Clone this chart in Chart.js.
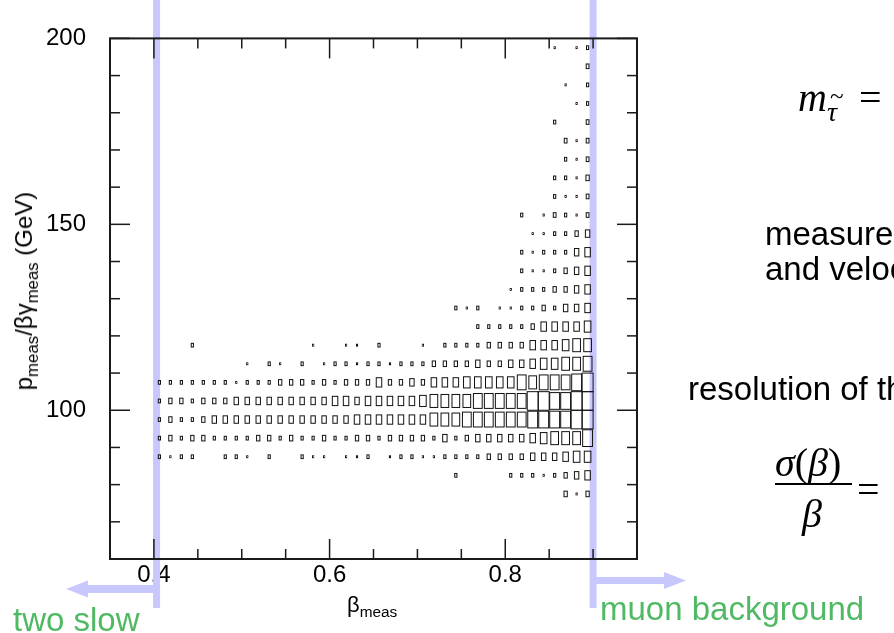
<!DOCTYPE html>
<html>
<head>
<meta charset="utf-8">
<script src="https://cdn.jsdelivr.net/npm/chart.js@4.4.1/dist/chart.umd.min.js"></script>
<style>
    html, body { margin: 0; padding: 0; background: #fff; overflow: hidden; }
    #wrap { position: relative; width: 894px; height: 633px; overflow: hidden;
            font-family: "Liberation Sans", Arial, Helvetica, sans-serif; color: #000; }
    #wrap canvas { position: absolute; left: 0; top: 0; }
    .txt { position: absolute; white-space: nowrap; line-height: 1; }
    .slide { font-size: 33px; }
    .green { color: rgb(80, 185, 100); }
    .math { font-family: "Liberation Serif", "Times New Roman", serif; font-style: italic; }
    .upright { font-style: normal; }
    sub { font-size: 0.7em; vertical-align: -0.35em; line-height: 0; }
    .tilde { position: relative; display: inline-block; }
    .tilde .acc { position: absolute; left: 0.12em; top: -0.62em; font-style: normal; font-size: 0.9em; }
    #ytitle { font-size: 24px; transform: translate(-50%, -50%) rotate(-90deg); left: 24px; top: 291px; }
    #xtitle { font-size: 22px; left: 347px; top: 594px; }
    .frac { position: absolute; }
    .frac .bar { position: absolute; height: 2px; background: #000; }
</style>
</head>
<body>
<div id="wrap">
    <canvas id="betaChart" width="894" height="633"></canvas>

    <div class="txt" id="ytitle">p<sub>meas</sub>/βγ<sub>meas</sub> (GeV)</div>
    <div class="txt" id="xtitle">β<sub>meas</sub></div>

    <div class="txt slide green" style="left:13px; top:603px;">two slow</div>
    <div class="txt slide green" style="left:600px; top:592px;">muon background</div>

    <div class="txt math" style="left:798px; top:78px; font-size:40px;">m<sub><span class="tilde">τ<span class="acc">~</span></span></sub><span class="upright" style="margin-left:22px;">=</span></div>

    <div class="txt slide" style="left:765px; top:217px;">measured momentum</div>
    <div class="txt slide" style="left:765px; top:252px;">and velocity</div>

    <div class="txt slide" style="left:688px; top:372px;">resolution of the velocity</div>

    <div class="frac" style="left:775px; top:438px; width:80px; height:95px;">
        <div class="txt math" style="left:0; top:5px; font-size:40px;">σ<span class="upright">(</span>β<span class="upright">)</span></div>
        <div class="bar" style="left:0; top:45px; width:77px;"></div>
        <div class="txt math" style="left:27px; top:56px; font-size:40px;">β</div>
    </div>
    <div class="txt math" style="left:857px; top:470px; font-size:40px;"><span class="upright">=</span></div>
</div>

<script>
// velocity bins: 40 bins of 0.0125 between 0.4 and 0.9
const betaLow = 0.4;
const betaStep = 0.0125;
// momentum/(beta gamma) bins: 5 GeV wide, listed by bin centre
const pStep = 5;
const pCentres = [197.5, 192.5, 187.5, 182.5, 177.5, 172.5, 167.5, 162.5, 157.5, 152.5,
                  147.5, 142.5, 137.5, 132.5, 127.5, 122.5, 117.5, 112.5, 107.5, 102.5,
                  97.5, 92.5, 87.5, 82.5, 77.5];

// bin contents, one row per pCentres entry, columns run from beta 0.4 to 0.9
const binContent = [
    [0,0,0,0,0,0,0,0,0,0, 0,0,0,0,0,0,0,0,0,0, 0,0,0,0,0,0,0,0,0,0, 0,0,0,0,0,0,1,0,1,2],
    [0,0,0,0,0,0,0,0,0,0, 0,0,0,0,0,0,0,0,0,0, 0,0,0,0,0,0,0,0,0,0, 0,0,0,0,0,0,0,0,0,2.5],
    [0,0,0,0,0,0,0,0,0,0, 0,0,0,0,0,0,0,0,0,0, 0,0,0,0,0,0,0,0,0,0, 0,0,0,0,0,0,0,1,0,2],
    [0,0,0,0,0,0,0,0,0,0, 0,0,0,0,0,0,0,0,0,0, 0,0,0,0,0,0,0,0,0,0, 0,0,0,0,0,0,0,0,1,2],
    [0,0,0,0,0,0,0,0,0,0, 0,0,0,0,0,0,0,0,0,0, 0,0,0,0,0,0,0,0,0,0, 0,0,0,0,0,0,2,0,0,2.5],
    [0,0,0,0,0,0,0,0,0,0, 0,0,0,0,0,0,0,0,0,0, 0,0,0,0,0,0,0,0,0,0, 0,0,0,0,0,0,0,2.5,1,2.5],
    [0,0,0,0,0,0,0,0,0,0, 0,0,0,0,0,0,0,0,0,0, 0,0,0,0,0,0,0,0,0,0, 0,0,0,0,0,0,0,2,1,2.5],
    [0,0,0,0,0,0,0,0,0,0, 0,0,0,0,0,0,0,0,0,0, 0,0,0,0,0,0,0,0,0,0, 0,0,0,0,0,0,2,2,1,3],
    [0,0,0,0,0,0,0,0,0,0, 0,0,0,0,0,0,0,0,0,0, 0,0,0,0,0,0,0,0,0,0, 0,0,0,0,0,0,2,1,1,2.5],
    [0,0,0,0,0,0,0,0,0,0, 0,0,0,0,0,0,0,0,0,0, 0,0,0,0,0,0,0,0,0,0, 0,0,0,2,0,1,2.5,2,1,2.5],
    [0,0,0,0,0,0,0,0,0,0, 0,0,0,0,0,0,0,0,0,0, 0,0,0,0,0,0,0,0,0,0, 0,0,0,0,1,1,2,2,3,4],
    [0,0,0,0,0,0,0,0,0,0, 0,0,0,0,0,0,0,0,0,0, 0,0,0,0,0,0,0,0,0,0, 0,0,0,2,1,2,2,2,4,5],
    [0,0,0,0,0,0,0,0,0,0, 0,0,0,0,0,0,0,0,0,0, 0,0,0,0,0,0,0,0,0,0, 0,0,0,2,1,1,2,3,4,5],
    [0,0,0,0,0,0,0,0,0,0, 0,0,0,0,0,0,0,0,0,0, 0,0,0,0,0,0,0,0,0,0, 0,0,1,2,2,2,3,3,4,5],
    [0,0,0,0,0,0,0,0,0,0, 0,0,0,0,0,0,0,0,0,0, 0,0,0,0,0,0,0,2,1,2, 0,1,1,2,2,3,2,4,4,5],
    [0,0,0,0,0,0,0,0,0,0, 0,0,0,0,0,0,0,0,0,0, 0,0,0,0,0,0,0,0,0,2, 2,2,2,2,3,5,5,5,5,6],
    [0,0,0,2,0,0,0,0,0,0, 0,0,0,0,1,0,0,1,1,0, 2,0,0,0,1,0,2,2,2,2, 3,3,3,3,5,5,5,6,7,7],
    [0,0,0,0,0,0,0,0,1,0, 2,1,0,2,0,1,2,2,1,2, 2,1,2,2,2,3,3,3,3,4, 3,3,4,4,5,6,6,7,7,8],
    [2,2,2,2,2,2,2,1,2,2, 2,3,3,3,2,3,2,3,3,3, 5,3,3,4,3,5,5,5,6,6, 6,6,6,8,7,8,8,8,9,10],
    [2,3,3,2,3,3,3,4,4,4, 4,4,4,4,4,4,5,5,4,5, 5,5,5,5,6,7,7,7,7,8, 8,8,8,8,10,10,9,9,10,10],
    [2,3,2,2,3,4,4,4,4,4, 4,4,4,4,4,4,4,4,5,5, 5,5,5,5,5,7,7,7,8,8, 8,8,8,8,9,9,9,9,10,10],
    [2,3,2,3,3,2,2,2,2,3, 3,2,3,2,2,3,2,2,3,3, 2,3,3,3,3,2,4,2,3,4, 4,4,4,4,5,6,7,7,7,9],
    [2,1,2,2,0,0,2,2,1,0, 2,0,0,2,1,1,0,1,1,2, 0,1,2,2,1,1,2,2,2,2, 3,3,3,3,4,4,4,5,6,6],
    [0,0,0,0,0,0,0,0,0,0, 0,0,0,0,0,0,0,0,0,0, 0,0,0,0,0,0,0,2,0,0, 0,0,2,2,2,1,2,3,4,5],
    [0,0,0,0,0,0,0,0,0,0, 0,0,0,0,0,0,0,0,0,0, 0,0,0,0,0,0,0,0,0,0, 0,0,0,0,0,0,0,3,1,3]
];

const xTickValues = [0.4, 0.6, 0.8];
const yTickValues = [100, 150, 200];
// selection cuts on beta
const cutValues = [0.403, 0.9];

// flatten the 2D histogram into points at the bin centres
const cells = [];
binContent.forEach((row, r) => {
    row.forEach((v, c) => {
        if (v > 0) {
            cells.push({ x: betaLow + betaStep * (c + 0.5), y: pCentres[r], v: v });
        }
    });
});
const maxContent = Math.max(...cells.map(c => c.v));

const blue = 'rgb(200, 200, 255)';

// ROOT-style "box" drawing: box size proportional to bin content
const boxPlugin = {
    id: 'boxes',
    afterDatasetsDraw(chart) {
        const { ctx, scales: { x, y } } = chart;
        const meta = chart.getDatasetMeta(0);
        const data = chart.data.datasets[0].data;
        const binW = Math.abs(x.getPixelForValue(betaLow + betaStep) - x.getPixelForValue(betaLow));
        const binH = Math.abs(y.getPixelForValue(100) - y.getPixelForValue(100 + pStep));
        ctx.save();
        ctx.strokeStyle = '#111';
        ctx.lineWidth = 1;
        meta.data.forEach((pt, i) => {
            const f = data[i].v / maxContent;
            const w = Math.max(binW * f, 1);
            const h = Math.max(binH * f, 1);
            ctx.strokeRect(pt.x - w / 2, pt.y - h / 2, w, h);
        });
        ctx.restore();
    }
};

// the two beta cut lines with their arrows
const cutPlugin = {
    id: 'cuts',
    beforeDatasetsDraw(chart) {
        const { ctx, scales: { x } } = chart;
        const xl = x.getPixelForValue(cutValues[0]);
        const xr = x.getPixelForValue(cutValues[1]);
        ctx.save();
        ctx.fillStyle = blue;
        ctx.fillRect(xl - 3.5, 0, 7, 608);
        ctx.fillRect(xr - 3.5, 0, 7, 608);
        // left arrow
        ctx.fillRect(86, 585, xl - 86, 8);
        ctx.beginPath();
        ctx.moveTo(66, 589);
        ctx.lineTo(88, 580.5);
        ctx.lineTo(88, 597.5);
        ctx.closePath();
        ctx.fill();
        // right arrow
        ctx.fillRect(xr, 577, 666 - xr, 7);
        ctx.beginPath();
        ctx.moveTo(686, 580.5);
        ctx.lineTo(664, 572);
        ctx.lineTo(664, 589);
        ctx.closePath();
        ctx.fill();
        ctx.restore();
    }
};

// frame with inward ticks on all four sides
const framePlugin = {
    id: 'frame',
    afterDatasetsDraw(chart) {
        const { ctx, chartArea: a, scales: { x, y } } = chart;
        ctx.save();
        ctx.strokeStyle = '#1a1a1a';
        ctx.lineWidth = 1.5;
        const tick = (x0, y0, x1, y1) => {
            ctx.beginPath(); ctx.moveTo(x0, y0); ctx.lineTo(x1, y1); ctx.stroke();
        };
        for (let b = 0.35; b <= 0.951; b += 0.05) {
            const v = Math.round(b * 100) / 100;
            const px = x.getPixelForValue(v);
            const len = xTickValues.includes(v) ? 20 : 10;
            tick(px, a.bottom, px, a.bottom - len);
            tick(px, a.top, px, a.top + len);
        }
        for (let p = 60; p <= 200; p += 10) {
            const py = y.getPixelForValue(p);
            const len = yTickValues.includes(p) ? 20 : 10;
            tick(a.left, py, a.left + len, py);
            tick(a.right, py, a.right - len, py);
        }
        ctx.lineWidth = 2;
        ctx.strokeRect(a.left, a.top, a.right - a.left, a.bottom - a.top);
        ctx.restore();
    }
};

new Chart(document.getElementById('betaChart'), {
    type: 'scatter',
    data: {
        datasets: [{
            label: 'events',
            data: cells,
            pointRadius: 0,
            pointHoverRadius: 0,
            pointHitRadius: 0
        }]
    },
    options: {
        responsive: false,
        animation: false,
        events: [],
        layout: { padding: { left: 0, top: 34, right: 257, bottom: 0 } },
        plugins: {
            legend: { display: false },
            tooltip: { enabled: false }
        },
        scales: {
            x: {
                type: 'linear',
                min: 0.35,
                max: 0.95,
                afterBuildTicks: axis => { axis.ticks = xTickValues.map(v => ({ value: v })); },
                afterFit: axis => { axis.height = 74; },
                grid: { display: false, drawTicks: false },
                border: { display: false },
                ticks: {
                    color: '#000',
                    padding: 2,
                    maxRotation: 0,
                    autoSkip: false,
                    font: { family: '"Liberation Sans", Arial, sans-serif', size: 24 },
                    callback: v => v.toFixed(1)
                }
            },
            y: {
                type: 'linear',
                min: 60,
                max: 200,
                afterBuildTicks: axis => { axis.ticks = yTickValues.map(v => ({ value: v })); },
                afterFit: axis => { axis.width = 110; },
                grid: { display: false, drawTicks: false },
                border: { display: false },
                ticks: {
                    color: '#000',
                    padding: 24,
                    font: { family: '"Liberation Sans", Arial, sans-serif', size: 24 }
                }
            }
        }
    },
    plugins: [cutPlugin, boxPlugin, framePlugin]
});
</script>
</body>
</html>
